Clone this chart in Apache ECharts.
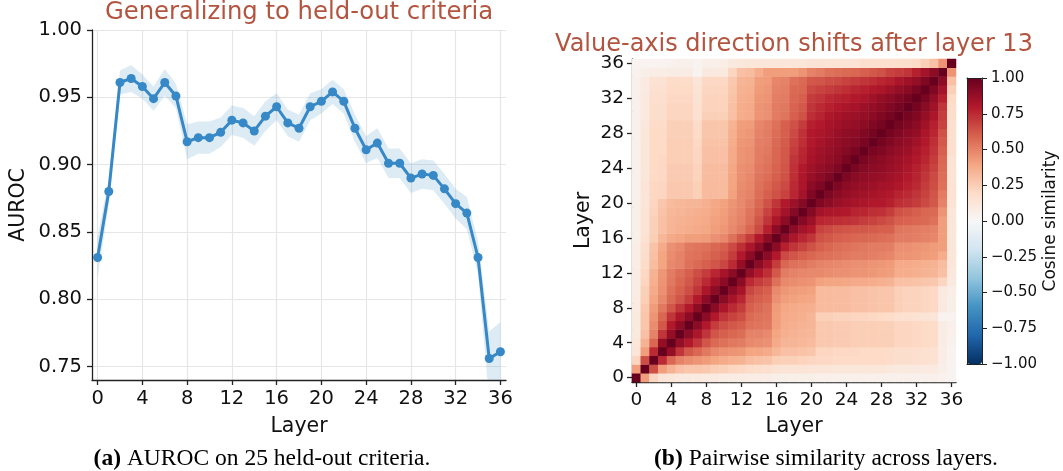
<!DOCTYPE html>
<html><head><meta charset="utf-8">
<script src="https://cdn.jsdelivr.net/npm/echarts@6/dist/echarts.min.js"></script>
<style>html,body{margin:0;padding:0;background:#fff}#c{width:1063px;height:471px}</style>
</head><body><div id="c"></div>
<script>
// ---------------- data ----------------
const layers = [0,1,2,3,4,5,6,7,8,9,10,11,12,13,14,15,16,17,18,19,20,21,22,23,24,25,26,27,28,29,30,31,32,33,34,35,36];
const auroc = [0.831,0.880,0.961,0.964,0.958,0.949,0.961,0.951,0.917,0.920,0.920,0.924,0.933,0.931,0.925,0.936,0.943,0.931,0.927,0.943,0.947,0.954,0.947,0.927,0.911,0.916,0.901,0.901,0.890,0.893,0.892,0.882,0.871,0.864,0.831,0.756,0.761];
const aurocLow = [0.816,0.870,0.952,0.954,0.949,0.940,0.951,0.942,0.904,0.908,0.908,0.913,0.922,0.920,0.914,0.925,0.933,0.921,0.917,0.933,0.938,0.945,0.938,0.917,0.901,0.905,0.890,0.890,0.879,0.882,0.881,0.871,0.860,0.852,0.819,0.725,0.735];
const aurocHigh = [0.846,0.890,0.970,0.974,0.967,0.958,0.971,0.960,0.930,0.932,0.932,0.935,0.944,0.942,0.936,0.947,0.953,0.941,0.937,0.953,0.956,0.963,0.956,0.937,0.921,0.927,0.912,0.912,0.901,0.904,0.903,0.893,0.882,0.876,0.843,0.776,0.783];
const xTicks = [0,4,8,12,16,20,24,28,32,36];
const yTicks = [0.75,0.80,0.85,0.90,0.95,1.00];
// lower triangle of the (symmetric) cosine-similarity matrix: row i holds columns 0..i
const simLower = [
 [1.00],
 [0.42,1.00],
 [0.22,0.65,1.00],
 [0.13,0.42,0.75,1.00],
 [0.12,0.35,0.58,0.88,1.00],
 [0.10,0.30,0.50,0.72,0.88,1.00],
 [0.10,0.28,0.47,0.62,0.80,0.90,1.00],
 [0.10,0.28,0.45,0.58,0.72,0.82,0.90,1.00],
 [0.09,0.27,0.43,0.53,0.63,0.72,0.80,0.90,1.00],
 [0.09,0.25,0.40,0.48,0.57,0.63,0.70,0.80,0.90,1.00],
 [0.08,0.24,0.38,0.46,0.55,0.60,0.65,0.72,0.82,0.90,1.00],
 [0.08,0.22,0.36,0.45,0.53,0.58,0.62,0.68,0.75,0.83,0.90,1.00],
 [0.08,0.21,0.35,0.44,0.52,0.56,0.60,0.65,0.70,0.76,0.83,0.90,1.00],
 [0.07,0.19,0.31,0.40,0.48,0.50,0.55,0.57,0.60,0.63,0.67,0.75,0.88,1.00],
 [0.07,0.18,0.30,0.40,0.47,0.50,0.54,0.55,0.57,0.60,0.63,0.70,0.80,0.90,1.00],
 [0.07,0.17,0.29,0.38,0.46,0.48,0.53,0.54,0.55,0.58,0.60,0.66,0.74,0.82,0.90,1.00],
 [0.06,0.15,0.25,0.33,0.38,0.40,0.42,0.42,0.43,0.46,0.48,0.55,0.62,0.70,0.80,0.90,1.00],
 [0.06,0.14,0.24,0.30,0.34,0.36,0.37,0.38,0.39,0.42,0.44,0.48,0.52,0.58,0.66,0.78,0.90,1.00],
 [0.06,0.14,0.24,0.30,0.34,0.35,0.36,0.37,0.38,0.41,0.43,0.47,0.50,0.55,0.63,0.72,0.82,0.90,1.00],
 [0.06,0.14,0.23,0.29,0.33,0.34,0.35,0.36,0.37,0.40,0.42,0.46,0.49,0.54,0.60,0.68,0.76,0.84,0.92,1.00],
 [0.06,0.13,0.22,0.28,0.32,0.33,0.34,0.34,0.36,0.39,0.41,0.45,0.48,0.52,0.58,0.64,0.72,0.80,0.86,0.92,1.00],
 [0.05,0.13,0.21,0.22,0.27,0.27,0.27,0.24,0.32,0.32,0.32,0.41,0.48,0.50,0.56,0.60,0.64,0.68,0.76,0.84,0.93,1.00],
 [0.05,0.13,0.21,0.22,0.27,0.27,0.27,0.24,0.32,0.32,0.32,0.40,0.47,0.49,0.55,0.58,0.62,0.66,0.75,0.82,0.90,0.94,1.00],
 [0.05,0.12,0.20,0.21,0.26,0.26,0.26,0.23,0.31,0.31,0.31,0.40,0.46,0.48,0.54,0.56,0.60,0.64,0.74,0.81,0.87,0.90,0.94,1.00],
 [0.05,0.12,0.20,0.21,0.26,0.26,0.26,0.23,0.31,0.31,0.31,0.39,0.46,0.47,0.53,0.55,0.59,0.63,0.73,0.80,0.85,0.88,0.90,0.94,1.00],
 [0.05,0.12,0.20,0.21,0.25,0.25,0.25,0.22,0.30,0.30,0.30,0.38,0.45,0.46,0.52,0.54,0.58,0.62,0.72,0.77,0.83,0.86,0.88,0.91,0.95,1.00],
 [0.05,0.12,0.20,0.20,0.25,0.25,0.25,0.22,0.30,0.30,0.30,0.38,0.45,0.46,0.52,0.53,0.58,0.62,0.70,0.76,0.82,0.85,0.87,0.89,0.92,0.95,1.00],
 [0.05,0.12,0.20,0.20,0.25,0.25,0.25,0.21,0.29,0.29,0.29,0.37,0.44,0.45,0.51,0.52,0.57,0.61,0.68,0.74,0.80,0.83,0.86,0.88,0.90,0.92,0.95,1.00],
 [0.05,0.12,0.20,0.20,0.24,0.24,0.24,0.20,0.28,0.28,0.28,0.36,0.43,0.44,0.50,0.52,0.56,0.60,0.66,0.73,0.80,0.82,0.84,0.87,0.89,0.90,0.93,0.96,1.00],
 [0.05,0.11,0.19,0.19,0.24,0.24,0.24,0.19,0.28,0.28,0.28,0.35,0.42,0.43,0.49,0.51,0.55,0.60,0.64,0.70,0.78,0.80,0.83,0.85,0.87,0.88,0.90,0.93,0.96,1.00],
 [0.05,0.10,0.18,0.18,0.22,0.22,0.22,0.16,0.24,0.24,0.24,0.30,0.37,0.38,0.45,0.46,0.52,0.54,0.60,0.64,0.74,0.77,0.81,0.83,0.85,0.86,0.88,0.90,0.93,0.96,1.00],
 [0.05,0.10,0.18,0.18,0.22,0.22,0.22,0.16,0.23,0.23,0.23,0.30,0.37,0.38,0.45,0.46,0.52,0.53,0.59,0.62,0.72,0.75,0.78,0.80,0.82,0.83,0.86,0.88,0.90,0.93,0.96,1.00],
 [0.05,0.10,0.17,0.17,0.21,0.21,0.21,0.15,0.23,0.23,0.23,0.29,0.36,0.37,0.44,0.45,0.51,0.52,0.58,0.60,0.70,0.72,0.75,0.77,0.78,0.80,0.82,0.85,0.88,0.90,0.93,0.96,1.00],
 [0.05,0.09,0.16,0.16,0.20,0.20,0.20,0.14,0.22,0.22,0.22,0.28,0.35,0.36,0.43,0.44,0.50,0.51,0.57,0.58,0.66,0.68,0.70,0.72,0.74,0.76,0.78,0.80,0.82,0.85,0.88,0.91,0.95,1.00],
 [0.05,0.09,0.15,0.15,0.19,0.19,0.19,0.13,0.21,0.21,0.21,0.27,0.34,0.35,0.42,0.43,0.49,0.50,0.55,0.57,0.62,0.63,0.65,0.66,0.68,0.70,0.72,0.74,0.76,0.78,0.82,0.85,0.88,0.93,1.00],
 [0.04,0.06,0.07,0.07,0.08,0.08,0.08,0.03,0.10,0.10,0.10,0.22,0.30,0.31,0.37,0.42,0.42,0.42,0.42,0.45,0.50,0.52,0.55,0.56,0.57,0.58,0.60,0.62,0.64,0.68,0.70,0.72,0.78,0.84,0.90,1.00],
 [0.03,0.03,0.03,0.03,0.04,0.05,0.05,0.03,0.06,0.06,0.07,0.10,0.11,0.12,0.12,0.12,0.12,0.12,0.12,0.12,0.14,0.14,0.14,0.14,0.14,0.14,0.17,0.17,0.17,0.17,0.18,0.18,0.20,0.24,0.30,0.45,1.00]
];
const rdbuR = ['#053061','#2166ac','#4393c3','#92c5de','#d1e5f0','#f7f7f7','#fddbc7','#f4a582','#d6604d','#b2182b','#67001f'];

// ---------------- build ----------------
const FONT = 'DejaVu Sans';
const INK = '#111';
const heatData = [];
for (let i = 0; i < simLower.length; i++) {
  for (let j = 0; j <= i; j++) {
    heatData.push([j, i, simLower[i][j]]);
    if (i !== j) heatData.push([i, j, simLower[i][j]]);
  }
}
const lineData = layers.map((l, k) => [l, auroc[k]]);
const bandData = layers.map((l, k) => [l, aurocLow[k], aurocHigh[k]]);
const catLabels = layers.map(String);
const fmt2 = v => (v < 0 ? '\u2212' : '') + Math.abs(v).toFixed(2);

const G0 = {left: 92, top: 30, width: 414, height: 350};
const G1 = {left: 632, top: 59, width: 324, height: 323};
const G2 = {left: 967, top: 78, width: 15, height: 286};

const lineAx = {show: true, onZero: false, lineStyle: {color: '#222', width: 1.3}};
const tickAx = {show: true, length: 5, inside: false, lineStyle: {color: '#222', width: 1.3}};

const option = {
  animation: false,
  backgroundColor: '#fff',
  textStyle: {fontFamily: FONT},
  grid: [
    Object.assign({containLabel: false}, G0),
    Object.assign({containLabel: false}, G1),
    Object.assign({containLabel: false}, G2)
  ],
  xAxis: [
    {type: 'value', gridIndex: 0, min: -0.5, max: 36.5,
     axisLine: lineAx, axisTick: Object.assign({customValues: xTicks}, tickAx),
     axisLabel: {customValues: xTicks, fontSize: 19.5, color: INK, margin: 9, fontFamily: FONT},
     splitLine: {show: true, lineStyle: {color: '#e6e6e6', width: 1.2}},
     name: 'Layer', nameLocation: 'middle', nameGap: 36,
     nameTextStyle: {fontSize: 20.5, color: INK, fontFamily: FONT}},
    {type: 'category', gridIndex: 1, data: catLabels, boundaryGap: true,
     axisLine: lineAx, axisTick: Object.assign({interval: 3, alignWithLabel: true}, tickAx),
     axisLabel: {interval: 3, fontSize: 18.5, color: INK, margin: 9, fontFamily: FONT},
     splitLine: {show: false},
     name: 'Layer', nameLocation: 'middle', nameGap: 34,
     nameTextStyle: {fontSize: 20.5, color: INK, fontFamily: FONT}},
    {type: 'value', gridIndex: 2, min: 0, max: 1, position: 'top', z: 10,
     axisLine: {show: true, onZero: false, lineStyle: {color: '#222', width: 1}},
     axisTick: {show: false}, axisLabel: {show: false}, splitLine: {show: false}},
    {type: 'value', gridIndex: 2, min: 0, max: 1, position: 'bottom', z: 10,
     axisLine: {show: true, onZero: false, lineStyle: {color: '#222', width: 1}},
     axisTick: {show: false}, axisLabel: {show: false}, splitLine: {show: false}}
  ],
  yAxis: [
    {type: 'value', gridIndex: 0, min: 0.74, max: 1.0,
     axisLine: lineAx, axisTick: Object.assign({customValues: yTicks}, tickAx),
     axisLabel: {customValues: yTicks, fontSize: 19.5, color: INK, margin: 10, formatter: fmt2, fontFamily: FONT},
     splitLine: {show: true, lineStyle: {color: '#e6e6e6', width: 1.2}},
     name: 'AUROC', nameLocation: 'middle', nameGap: 63, nameRotate: 90,
     nameTextStyle: {fontSize: 20.5, color: INK, fontFamily: FONT}},
    {type: 'category', gridIndex: 1, data: catLabels, boundaryGap: true,
     axisLine: lineAx, axisTick: Object.assign({interval: 3, alignWithLabel: true}, tickAx),
     axisLabel: {interval: 3, fontSize: 18.5, color: INK, margin: 8, fontFamily: FONT},
     splitLine: {show: false},
     name: 'Layer', nameLocation: 'middle', nameGap: 38, nameRotate: 90,
     nameTextStyle: {fontSize: 20.5, color: INK, fontFamily: FONT}},
    {type: 'value', gridIndex: 2, min: -1, max: 1, position: 'left', z: 10,
     axisLine: {show: true, onZero: false, lineStyle: {color: '#222', width: 1}},
     axisTick: {show: false}, axisLabel: {show: false}, splitLine: {show: false}},
    {type: 'value', gridIndex: 2, min: -1, max: 1, interval: 0.25, position: 'right', z: 10,
     axisLine: {show: true, onZero: false, lineStyle: {color: '#222', width: 1}},
     axisTick: {show: true, length: 5, lineStyle: {color: '#222', width: 1}},
     axisLabel: {fontSize: 15, color: INK, margin: 9, formatter: fmt2, fontFamily: FONT},
     splitLine: {show: false},
     name: 'Cosine similarity', nameLocation: 'middle', nameGap: 60, nameRotate: 90,
     nameTextStyle: {fontSize: 17, color: INK, fontFamily: FONT}}
  ],
  visualMap: [{
    type: 'continuous', min: -1, max: 1, seriesIndex: 2,
    inRange: {color: rdbuR},
    left: G2.left, top: G2.top, itemWidth: G2.width, itemHeight: G2.height,
    padding: 0, calculable: false, hoverLink: false, text: null, showLabel: false
  }],
  series: [
    {type: 'custom', xAxisIndex: 0, yAxisIndex: 0, data: bandData, clip: true, silent: true, z: 1,
     encode: {x: 0, y: [1, 2]},
     renderItem: function (params, api) {
       if (params.dataIndex !== 0) return null;
       const top = bandData.map(d => api.coord([d[0], d[2]]));
       const bot = bandData.map(d => api.coord([d[0], d[1]])).reverse();
       return {type: 'polygon', shape: {points: top.concat(bot)},
               style: {fill: 'rgba(52,135,197,0.17)', stroke: null}};
     }},
    {type: 'line', xAxisIndex: 0, yAxisIndex: 0, data: lineData,
     symbol: 'circle', symbolSize: 9, itemStyle: {color: '#3688c6'},
     lineStyle: {color: '#3688c6', width: 3}, z: 3},
    {type: 'heatmap', xAxisIndex: 1, yAxisIndex: 1, data: heatData,
     itemStyle: {borderWidth: 0}, emphasis: {disabled: true}, progressive: 0}
  ],
  graphic: [
    {type: 'text', x: 299, y: 13, style: {text: 'Generalizing to held-out criteria', fill: '#b3543f',
      font: '24.3px "DejaVu Sans"', textAlign: 'center', textVerticalAlign: 'middle'}},
    {type: 'text', x: 794, y: 45, style: {text: 'Value-axis direction shifts after layer 13', fill: '#b3543f',
      font: '24px "DejaVu Sans"', textAlign: 'center', textVerticalAlign: 'middle'}},
    {type: 'text', x: 262, y: 459, style: {text: '{b|(a)} AUROC on 25 held-out criteria.', fill: '#000',
      font: '23.5px "Liberation Serif"', textAlign: 'center', textVerticalAlign: 'middle',
      rich: {b: {fontWeight: 'bold', fontSize: 23.5, fontFamily: 'Liberation Serif'}}}},
    {type: 'text', x: 826, y: 459, style: {text: '{b|(b)} Pairwise similarity across layers.', fill: '#000',
      font: '23.5px "Liberation Serif"', textAlign: 'center', textVerticalAlign: 'middle',
      rich: {b: {fontWeight: 'bold', fontSize: 23.5, fontFamily: 'Liberation Serif'}}}}
  ]
};
const chart = echarts.init(document.getElementById('c'), null, {renderer: 'canvas'});
chart.setOption(option);
</script>
</body></html>
